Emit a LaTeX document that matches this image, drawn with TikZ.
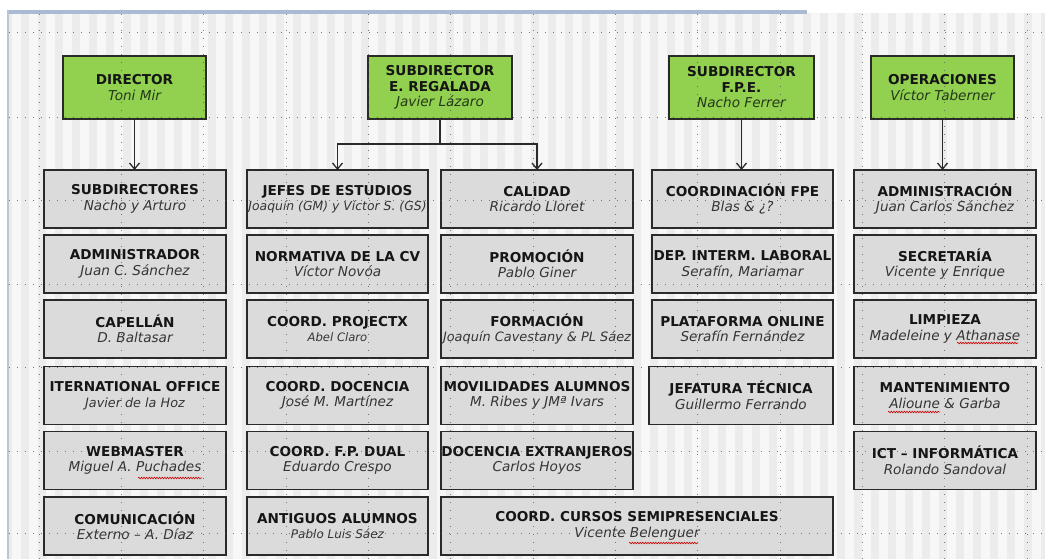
\documentclass[tikz,border=0pt]{standalone}
\usepackage{fontspec}
\setmainfont{DejaVu Sans}
\usetikzlibrary{arrows.meta,decorations.pathmorphing}
\definecolor{grn}{HTML}{92D050}
\definecolor{boxg}{HTML}{DBDBDB}
\definecolor{edgec}{HTML}{2A2A2A}
\definecolor{bgc}{HTML}{ECECEC}
\definecolor{stripec}{HTML}{F7F7F7}
\definecolor{barc}{HTML}{A9BBD3}
\definecolor{sidec}{HTML}{B7C6D9}
\definecolor{ttlc}{HTML}{151515}
\definecolor{subc}{HTML}{353535}
\definecolor{subgc}{HTML}{24381A}
\definecolor{dotc}{HTML}{505050}
\newcommand{\ttl}[1]{{\bfseries #1}}
\newcommand{\sbt}[1]{{\itshape\color{subc}#1}}
\newcommand{\sbg}[1]{{\itshape\color{subgc}#1}}
\newcommand{\sbs}[2]{{\fontsize{#1}{15.5}\selectfont\itshape\color{subc}#2}}
\tikzset{
  box/.style={draw=edgec, line width=1.3pt, inner sep=0pt, outer sep=0pt,
    align=center, text=ttlc, font=\fontsize{13.6}{15.5}\selectfont},
  gbox/.style={box, fill=grn, minimum width=#1, minimum height=63pt},
  pbox/.style={box, fill=boxg, minimum height=58pt, minimum width=#1},
  pbox/.default=182pt,
  conn/.style={draw=edgec, line width=1.3pt},
  arr/.style={conn, -{Straight Barb[length=6pt,width=10pt,line width=1.3pt]}},
  dotgrid/.style={dotc, line width=1pt, dash pattern=on 1pt off 7pt, opacity=0.75},
  spell/.style={red!80!black, line width=0.6pt, decorate,
    decoration={snake, amplitude=0.8pt, segment length=2.6pt}}
}
\begin{document}
\begin{tikzpicture}[x=1pt,y=-1pt]
\useasboundingbox (0,0) rectangle (1045,559);
% background
\fill[white] (0,0) rectangle (1045,559);
\fill[bgc] (9,13) rectangle (1045,559);
\foreach \i in {0,...,61} {
  \fill[stripec] ({12+17*\i},13) rectangle ({21+17*\i},559);
}
\fill[barc] (7,10) rectangle (807,14);
\fill[sidec] (7,10) rectangle (9,559);

% top level
\node[gbox=143pt] (dir) at (134.5,87.5) {\ttl{DIRECTOR}\\\sbg{Toni Mir}};
\node[gbox=144pt] (reg) at (440,87.5) {\ttl{SUBDIRECTOR}\\\ttl{E. REGALADA}\\\sbg{Javier Lázaro}};
\node[gbox=145pt] (fpe) at (741.5,87.5) {\ttl{SUBDIRECTOR}\\\ttl{F.P.E.}\\\sbg{Nacho Ferrer}};
\node[gbox=143pt] (ops) at (942.5,87.5) {\ttl{OPERACIONES}\\\sbg{Víctor Taberner}};

% column 1
\node[pbox] (a1) at (135,199) {\ttl{SUBDIRECTORES}\\\sbt{Nacho y Arturo}};
\node[pbox] (a2) at (135,264) {\ttl{ADMINISTRADOR}\\\sbt{Juan C. Sánchez}};
\node[pbox] (a3) at (135,329) {\ttl{CAPELLÁN}\\\sbt{D. Baltasar}};
\node[pbox] (a4) at (135,395.5) {\ttl{ITERNATIONAL OFFICE}\\\sbs{12.8}{Javier de la Hoz}};
\node[pbox] (a5) at (135,460.5) {\ttl{WEBMASTER}\\\sbt{Miguel A. Puchades}};
\node[pbox] (a6) at (135,526) {\ttl{COMUNICACIÓN}\\\sbt{Externo – A. Díaz}};

% column 2
\node[pbox=181pt] (b1) at (337.5,199) {\ttl{JEFES DE ESTUDIOS}\\\sbs{12.4}{Joaquín (GM) y Víctor S. (GS)}};
\node[pbox=181pt] (b2) at (337.5,264) {\ttl{NORMATIVA DE LA CV}\\\sbt{Víctor Novóa}};
\node[pbox=181pt] (b3) at (337.5,329) {\ttl{COORD. PROJECTX}\\\sbs{11.6}{Abel Claro}};
\node[pbox=181pt] (b4) at (337.5,395.5) {\ttl{COORD. DOCENCIA}\\\sbt{José M. Martínez}};
\node[pbox=181pt] (b5) at (337.5,460.5) {\ttl{COORD. F.P. DUAL}\\\sbt{Eduardo Crespo}};
\node[pbox=181pt] (b6) at (337.5,526) {\ttl{ANTIGUOS ALUMNOS}\\\sbs{12}{Pablo Luis Sáez}};

% column 3
\node[pbox=192pt] (c1) at (537,199) {\ttl{CALIDAD}\\\sbt{Ricardo Lloret}};
\node[pbox=192pt] (c2) at (537,264) {\ttl{PROMOCIÓN}\\\sbt{Pablo Giner}};
\node[pbox=192pt] (c3) at (537,329) {\ttl{FORMACIÓN}\\\sbs{12.9}{Joaquín Cavestany \& PL Sáez}};
\node[pbox=192pt] (c4) at (537,395.5) {\ttl{MOVILIDADES ALUMNOS}\\\sbt{M. Ribes y JMª Ivars}};
\node[pbox=192pt] (c5) at (537,460.5) {\ttl{DOCENCIA EXTRANJEROS}\\\sbt{Carlos Hoyos}};
\node[pbox=392pt] (cd) at (637,526) {\ttl{COORD. CURSOS SEMIPRESENCIALES}\\\sbt{Vicente Belenguer}};

% column 4
\node[pbox=181pt] (d1) at (742.5,199) {\ttl{COORDINACIÓN FPE}\\\sbt{Blas \& ¿?}};
\node[pbox=181pt] (d2) at (742.5,264) {\ttl{DEP. INTERM. LABORAL}\\\sbt{Serafín, Mariamar}};
\node[pbox=181pt] (d3) at (742.5,329) {\ttl{PLATAFORMA ONLINE}\\\sbt{Serafín Fernández}};
\node[pbox=184pt] (d4) at (741,395.5) {\ttl{JEFATURA TÉCNICA}\\\sbt{Guillermo Ferrando}};

% column 5
\node[pbox] (e1) at (945,199) {\ttl{ADMINISTRACIÓN}\\\sbt{Juan Carlos Sánchez}};
\node[pbox] (e2) at (945,264) {\ttl{SECRETARÍA}\\\sbt{Vicente y Enrique}};
\node[pbox] (e3) at (945,329) {\ttl{LIMPIEZA}\\\sbt{Madeleine y Athanase}};
\node[pbox] (e4) at (945,395.5) {\ttl{MANTENIMIENTO}\\\sbt{Alioune \& Garba}};
\node[pbox] (e5) at (945,460.5) {\ttl{ICT – INFORMÁTICA}\\\sbt{Rolando Sandoval}};

% connectors
\draw[arr] (dir.south) -- (dir.south |- a1.north);
\coordinate (rj) at (440,144);
\draw[conn] (reg.south) -- (rj);
\draw[arr] (rj) -| (b1.north);
\draw[arr] (rj) -| (c1.north);
\draw[arr] (fpe.south) -- (fpe.south |- d1.north);
\draw[arr] (ops.south) -- (ops.south |- e1.north);

% spell-check marks
\draw[spell] (138,478) -- (202,478);
\draw[spell] (629,543) -- (698,543);
\draw[spell] (957,343) -- (1018,343);
\draw[spell] (888,412) -- (940,412);

% dotted guide grid
\foreach \gx in {39,121.3,203.7,286,368.3,450.7,533,615.3,697.7,780,862.3,944.7,1027} {
  \draw[dotgrid] (\gx,14) -- (\gx,559);
}
\foreach \gy in {33,118,201,284,367,451,533} {
  \draw[dotgrid] (9,\gy) -- (1045,\gy);
}
\end{tikzpicture}
\end{document}
